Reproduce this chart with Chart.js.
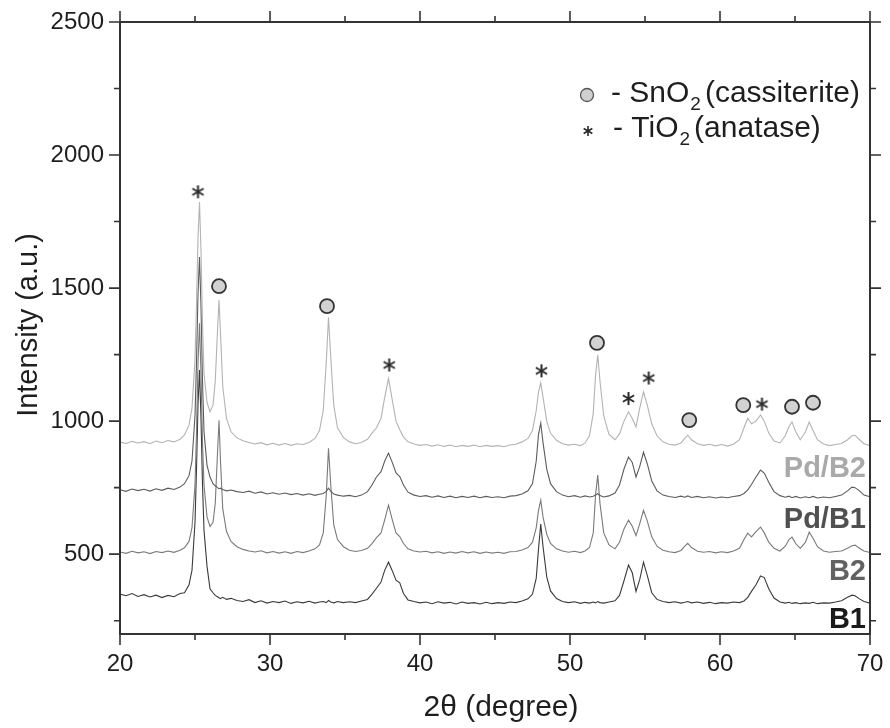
<!DOCTYPE html>
<html>
<head>
<meta charset="utf-8">
<title>XRD patterns</title>
<script src="https://cdn.jsdelivr.net/npm/chart.js@4.4.1/dist/chart.umd.min.js"></script>
<style>
  html, body { margin: 0; padding: 0; background: #fff; }
  #wrap { width: 890px; height: 728px; }
</style>
</head>
<body>
<div id="wrap"><canvas id="xrd" width="890" height="728"></canvas></div>
<script>
// 2theta positions (degree), shared by the four patterns
const twoTheta = [
    20.0, 20.4, 20.8, 21.2, 21.6, 22.0, 22.4, 22.8, 23.2, 23.6, 24.0, 24.3, 24.6,
    24.8, 25.0, 25.1, 25.2, 25.3, 25.4, 25.5, 25.6, 25.8, 26.0, 26.2,
    26.35, 26.5, 26.6, 26.7, 26.85, 27.1, 27.4, 27.8,
    28.2, 28.6, 29.0, 29.4, 29.8, 30.2, 30.6, 31.0, 31.4, 31.8, 32.2, 32.6, 33.0, 33.3,
    33.55, 33.75, 33.9, 34.05, 34.25, 34.5, 34.9,
    35.3, 35.7, 36.1, 36.5, 36.8, 37.1, 37.4, 37.65, 37.9, 38.15, 38.4, 38.65, 38.9, 39.2, 39.6, 40.0,
    40.4, 40.8, 41.2, 41.6, 42.0, 42.4, 42.8, 43.2, 43.6, 44.0, 44.4, 44.8, 45.2, 45.6, 46.0, 46.4, 46.8,
    47.2, 47.5, 47.75, 47.9, 48.05, 48.2, 48.45, 48.7, 49.1,
    49.5, 49.9, 50.3, 50.7, 51.0, 51.3,
    51.55, 51.7, 51.85, 52.0, 52.25, 52.6,
    53.0, 53.3, 53.6, 53.9, 54.15, 54.4, 54.65, 54.9, 55.15, 55.45, 55.8, 56.2,
    56.6, 57.0, 57.4, 57.65, 57.85, 58.1, 58.5,
    58.9, 59.3, 59.7, 60.1, 60.5, 60.9, 61.3,
    61.6, 61.85, 62.1, 62.4, 62.7, 62.95, 63.25, 63.6,
    64.0, 64.35, 64.6, 64.8, 65.05, 65.35, 65.7, 65.95, 66.2, 66.5, 66.9,
    67.3, 67.7, 68.1, 68.5, 68.8, 69.0, 69.3, 69.6, 70.0
];

// intensities (a.u.), patterns stacked with their offsets
const intensB1 = [
    350, 344, 352, 341, 348, 339, 346, 337, 345, 340, 352, 355, 385,
    440, 620, 820, 1060, 1192, 1010, 760, 590, 455, 370, 355,
    345, 340, 336, 333, 338, 330, 334, 326,
    322, 329, 318, 325, 316, 322, 318, 324, 315, 321, 317, 323, 316, 320,
    322, 318, 326, 320, 317, 322, 318,
    321, 318, 324, 330, 350, 372, 395, 440, 470, 438, 402, 392, 352, 328, 322, 317,
    320, 314, 321, 316, 319, 313, 320, 315, 318, 313, 319, 314, 318, 315, 320, 318, 324,
    332, 350, 410, 520, 613, 530, 415, 362, 333,
    322, 318, 321, 315, 319, 316,
    320, 317, 322, 318, 316, 320,
    325, 345, 400, 459, 430, 360, 405, 470, 420, 355, 330, 322,
    318, 321, 316, 319, 322, 317, 320,
    315, 319, 314, 318, 316, 320, 318,
    324, 338, 360, 385, 418, 412, 370, 335,
    320, 316, 319, 315, 318, 314, 317, 315, 319, 314, 317,
    316, 320, 325, 338, 346, 344, 332, 322, 316
];
const intensB2 = [
    508, 503, 511, 505, 509, 502, 510, 506, 512, 507, 515, 524, 548,
    600, 760, 960, 1220, 1368, 1180, 920, 760, 640, 604, 620,
    690, 880, 1003, 850, 670, 585, 548, 528,
    518, 512, 508, 513, 505, 510, 504, 509, 503, 510, 506, 512, 520, 535,
    580, 720, 898, 760, 610, 555, 528,
    515, 510, 514, 522, 540, 562, 580, 630, 684, 630, 580, 566, 540, 520, 512, 508,
    511, 505, 509, 503, 508, 504, 510, 505, 509, 503, 508, 504, 507, 503, 509, 510, 516,
    525, 545, 600, 665, 703, 640, 575, 540, 520,
    512, 507, 511, 506, 512, 525,
    580, 720, 797, 690, 580, 535,
    520, 545, 595, 628, 605, 570, 615, 665, 625, 565, 530, 515,
    509, 506, 514, 530, 541, 525, 511,
    507, 510, 505, 509, 506, 512, 522,
    555, 579, 565, 585, 602, 580, 545, 522,
    512, 530, 555, 564, 540, 522, 545, 583, 560, 528, 512,
    507, 510, 512, 522, 532, 534, 522, 512, 506
];
const intensPdB1 = [
    742, 736, 745, 739, 744, 737, 746, 740, 748, 743, 752, 765, 795,
    850, 1020, 1220, 1480, 1617, 1430, 1150, 960, 835, 790, 765,
    757, 750, 746, 748, 743, 738, 741, 735,
    732, 737, 729, 734, 726, 731, 725, 730, 724, 728, 722, 727, 721, 725,
    728, 736, 748, 737, 726, 722, 718,
    721, 716, 722, 735, 760, 790, 810, 850, 880, 845, 805, 792, 760, 733, 722, 717,
    720, 714, 719, 713, 718, 712, 717, 713, 718, 712, 717, 713, 716, 712, 718, 720, 726,
    738, 765, 850, 950, 992, 920, 820, 765, 735,
    722, 716, 720, 714, 719, 715,
    718, 722, 727, 720, 715, 719,
    730, 760, 820, 865, 845, 790, 830, 883, 840, 775, 738, 722,
    717, 713, 718, 714, 719, 713, 717,
    712, 716, 711, 715, 712, 717, 720,
    728, 742, 762, 790, 816, 805, 770, 735,
    720, 714, 718, 712, 717, 711, 716, 712, 717, 711, 715,
    712, 717, 722, 738, 752, 750, 738, 722, 716
];
const intensPdB2 = [
    921, 916, 924, 918, 923, 915, 925, 919, 927, 922, 932, 948, 985,
    1050, 1230, 1440, 1690, 1823, 1640, 1370, 1180, 1070, 1035, 1060,
    1150, 1340, 1455, 1330, 1130, 1010, 960, 937,
    926, 920, 914, 919, 911, 917, 910, 916, 909, 915, 912, 920, 935, 965,
    1040, 1220, 1390, 1240, 1060, 975, 938,
    922, 915, 920, 932, 955, 975, 1010, 1090, 1160, 1080, 1000, 968, 940, 922, 914, 909,
    912, 906, 911, 905, 910, 904, 909, 905, 910, 904, 909, 905, 908, 904, 910, 913, 922,
    935, 965, 1040, 1110, 1144, 1090, 1000, 955, 928,
    915, 910, 913, 908, 918, 945,
    1030, 1170, 1248, 1150, 1020, 950,
    930, 952, 1000, 1035, 1010, 978, 1050, 1110, 1060, 990, 945, 922,
    913, 910, 918, 935, 947, 930, 915,
    909, 913, 907, 912, 906, 913, 930,
    975, 1011, 990, 1000, 1023, 1000, 955, 925,
    918, 945, 980, 997, 960, 930, 960, 997, 965, 930, 914,
    908, 912, 916, 930, 945, 947, 930, 915, 908
];

// phase markers above the Pd/B2 reflections
const cassiteritePos = [26.6, 33.8, 51.8, 57.95, 61.55, 64.8, 66.2];
const cassiteriteMark = [1507, 1432, 1294, 1004, 1060, 1054, 1069];
const anatasePos = [25.2, 37.95, 48.1, 53.9, 55.25, 62.8];
const anataseMark = [1862, 1211, 1189, 1085, 1162, 1064];

const sampleNames = ['Pd/B2', 'Pd/B1', 'B2', 'B1'];
const xTickValues = [20, 30, 40, 50, 60, 70];
const yTickValues = [500, 1000, 1500, 2000, 2500];

const FONT = '"Liberation Sans", Arial, Helvetica, sans-serif';
const INK = '#1e1e1e';

function toPoints(xs, ys) {
    return xs.map((x, i) => ({ x: x, y: ys[i] }));
}

// small six-armed asterisk used as a point style
function asteriskGlyph(size, lw) {
    const c = document.createElement('canvas');
    c.width = c.height = size;
    const g = c.getContext('2d');
    g.translate(size / 2, size / 2);
    g.strokeStyle = '#2a2a2a';
    g.lineWidth = lw;
    const r = size / 2 - 1;
    g.beginPath();
    [90, 30, 150].forEach(a => {
        const t = a * Math.PI / 180;
        g.moveTo(-r * Math.cos(t), -r * Math.sin(t));
        g.lineTo(r * Math.cos(t), r * Math.sin(t));
    });
    g.stroke();
    return c;
}
const starBig = asteriskGlyph(15, 2);
const starSmall = asteriskGlyph(12, 1.6);

function patternSet(label, values, color) {
    return {
        label: label,
        data: toPoints(twoTheta, values),
        showLine: true,
        borderColor: color,
        borderWidth: 1.1,
        pointRadius: 0,
        tension: 0
    };
}

// the frame is drawn by hand, so label overflow must not shrink the plot
function fixedBox(size) {
    return s => {
        if (s.isHorizontal()) s.height = size; else s.width = size;
        s.paddingLeft = s.paddingRight = s.paddingTop = s.paddingBottom = 0;
    };
}

// frame, major/minor ticks on all four sides
const frameTicks = {
    id: 'frameTicks',
    afterDraw(chart) {
        const { ctx, chartArea: a, scales: { x, y } } = chart;
        ctx.save();
        ctx.strokeStyle = '#333';
        ctx.lineWidth = 1.6;
        ctx.beginPath();
        for (let v = 20; v <= 70; v += 5) {
            const px = x.getPixelForValue(v);
            const len = v % 10 === 0 ? 11 : 6;
            ctx.moveTo(px, a.bottom); ctx.lineTo(px, a.bottom + len);
            ctx.moveTo(px, a.top); ctx.lineTo(px, a.top - len);
        }
        for (let v = 250; v <= 2500; v += 250) {
            const py = y.getPixelForValue(v);
            const len = v % 500 === 0 ? 11 : 6;
            ctx.moveTo(a.left, py); ctx.lineTo(a.left - len, py);
            ctx.moveTo(a.right, py); ctx.lineTo(a.right + len, py);
        }
        ctx.stroke();
        ctx.lineWidth = 2;
        ctx.strokeRect(a.left, a.top, a.right - a.left, a.bottom - a.top);
        ctx.restore();
    }
};

// axis titles, phase key and sample names
const annotations = {
    id: 'annotations',
    afterDraw(chart) {
        const ctx = chart.ctx;
        ctx.save();
        ctx.fillStyle = INK;
        ctx.textBaseline = 'middle';
        ctx.textAlign = 'center';
        ctx.font = '30px ' + FONT;
        ctx.fillText('2\u03b8 (degree)', 501, 708);

        ctx.save();
        ctx.translate(29, 325);
        ctx.rotate(-Math.PI / 2);
        ctx.font = '29px ' + FONT;
        ctx.fillText('Intensity (a.u.)', 0, 0);
        ctx.restore();

        // phase key
        ctx.beginPath();
        ctx.arc(587, 95, 6.5, 0, Math.PI * 2);
        ctx.fillStyle = '#d0d0d0';
        ctx.fill();
        ctx.lineWidth = 1.3;
        ctx.strokeStyle = '#555';
        ctx.stroke();
        ctx.drawImage(starSmall, 588 - 6, 131 - 6);

        ctx.fillStyle = INK;
        ctx.textAlign = 'left';
        ctx.textBaseline = 'alphabetic';
        const keyLine = (x, base, head, tail) => {
            ctx.font = '30px ' + FONT;
            ctx.fillText(head, x, base);
            x += ctx.measureText(head).width + 1;
            ctx.font = '19px ' + FONT;
            ctx.fillText('2', x, base + 8);
            x += ctx.measureText('2').width + 4;
            ctx.font = '30px ' + FONT;
            ctx.fillText(tail, x, base);
        };
        keyLine(611, 102, '- SnO', '(cassiterite)');
        keyLine(613, 137, '- TiO', '(anatase)');

        // sample names at the right end of each pattern
        const nameColors = ['#a9a9a9', '#505050', '#626262', '#1a1a1a'];
        const nameBase = [477, 528, 580, 628];
        ctx.textAlign = 'right';
        ctx.font = 'bold 29px ' + FONT;
        sampleNames.forEach((n, i) => {
            ctx.fillStyle = nameColors[i];
            ctx.fillText(n, 866, nameBase[i]);
        });
        ctx.restore();
    }
};

new Chart(document.getElementById('xrd'), {
    type: 'scatter',
    data: {
        datasets: [
            {
                label: 'SnO2 (cassiterite)',
                data: toPoints(cassiteritePos, cassiteriteMark),
                pointStyle: 'circle',
                pointRadius: 7,
                backgroundColor: '#d2d2d2',
                borderColor: '#333',
                borderWidth: 1.8
            },
            {
                label: 'TiO2 (anatase)',
                data: toPoints(anatasePos, anataseMark),
                pointStyle: starBig,
                pointRadius: 7
            },
            patternSet(sampleNames[0], intensPdB2, '#b3b3b3'),
            patternSet(sampleNames[1], intensPdB1, '#5c5c5c'),
            patternSet(sampleNames[2], intensB2, '#7a7a7a'),
            patternSet(sampleNames[3], intensB1, '#3a3a3a')
        ]
    },
    options: {
        responsive: false,
        animation: false,
        devicePixelRatio: 1,
        layout: { padding: { top: 22, right: 20, left: 0, bottom: 0 } },
        plugins: {
            legend: { display: false },
            tooltip: { enabled: false }
        },
        scales: {
            x: {
                type: 'linear',
                min: 20,
                max: 70,
                grid: { display: false, drawTicks: false },
                border: { display: false },
                afterBuildTicks: s => { s.ticks = xTickValues.map(v => ({ value: v })); },
                afterFit: fixedBox(94),
                ticks: {
                    autoSkip: false,
                    maxRotation: 0,
                    padding: 16,
                    color: INK,
                    font: { family: FONT, size: 24 },
                    callback: v => String(v)
                }
            },
            y: {
                type: 'linear',
                min: 200,
                max: 2500,
                grid: { display: false, drawTicks: false },
                border: { display: false },
                afterBuildTicks: s => { s.ticks = yTickValues.map(v => ({ value: v })); },
                afterFit: fixedBox(120),
                ticks: {
                    padding: 16,
                    color: INK,
                    font: { family: FONT, size: 24 },
                    callback: v => String(v)
                }
            }
        }
    },
    plugins: [frameTicks, annotations]
});
</script>
</body>
</html>
